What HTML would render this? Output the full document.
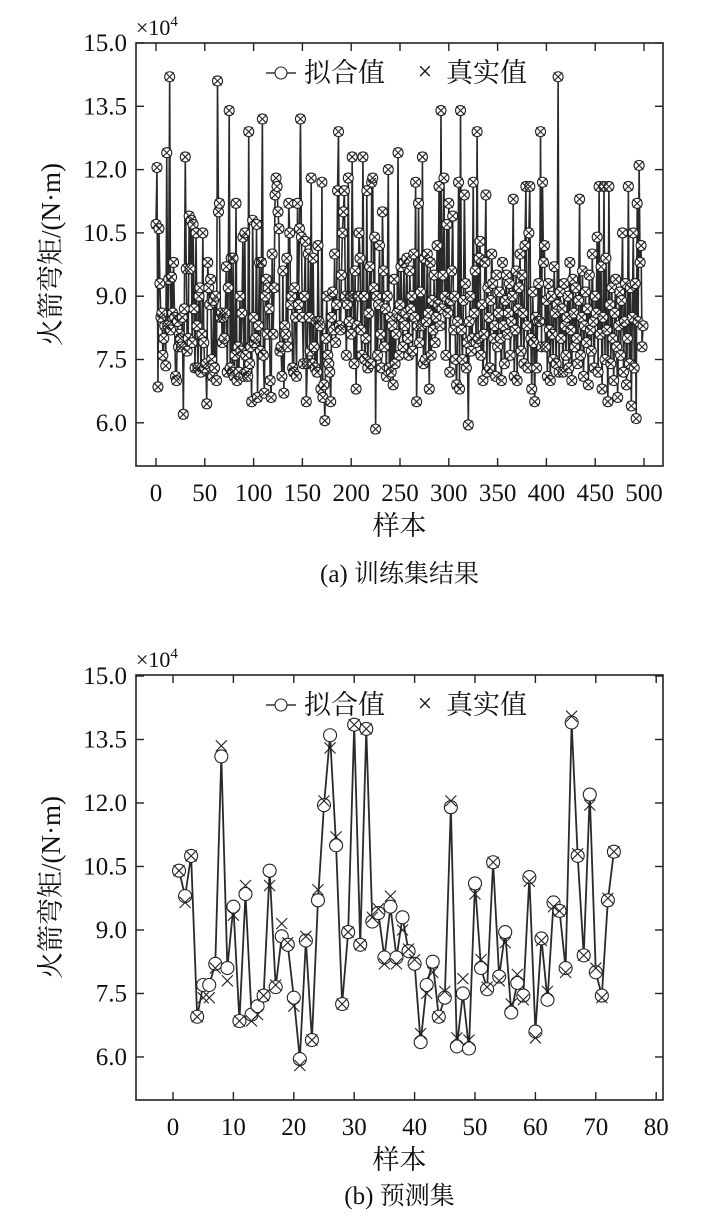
<!DOCTYPE html>
<html><head><meta charset="utf-8"><style>
body{margin:0;background:#fff;}
svg{display:block;}
text{font-family:"Liberation Serif","Noto Serif CJK SC",serif;}
</style></head><body>
<svg id="s" width="709" height="1221"></svg>
<script>
const trainValues=[10.7,12.05,6.85,10.6,9.3,8.5,8.6,7.6,8.0,8.3,7.35,12.4,8.3,9.4,14.2,8.2,9.45,8.6,9.8,8.5,7.1,7.0,8.4,7.8,8.1,
8.0,7.8,8.5,6.2,8.7,12.3,9.65,7.7,8.0,10.9,9.65,10.8,7.9,10.7,8.7,7.3,10.5,8.3,7.3,9.0,9.2,7.2,8.1,10.5,7.9,
7.3,7.4,6.45,9.8,9.2,8.8,9.4,7.5,7.1,8.9,7.3,9.0,7.0,14.1,11.0,11.2,8.5,8.6,7.9,8.5,8.0,8.6,9.7,7.2,9.2,
13.4,7.3,9.9,7.2,9.9,7.1,7.6,11.2,7.0,7.8,7.2,9.0,7.7,8.6,10.4,7.1,10.5,7.6,7.2,7.1,12.9,7.4,7.8,6.5,10.8,
8.5,7.9,8.0,10.7,6.6,8.3,9.8,7.7,9.8,13.2,7.6,6.7,9.0,9.4,8.1,9.2,8.7,7.0,6.6,10.0,8.1,9.2,11.4,11.8,11.6,
11.0,10.6,7.7,7.8,7.1,9.6,6.7,8.3,8.1,9.9,7.8,11.2,10.5,8.8,9.0,7.3,7.2,9.2,8.5,7.1,11.2,8.8,10.6,13.2,10.4,
8.5,7.4,9.0,10.3,6.5,7.4,10.0,8.5,7.7,11.8,7.4,9.9,7.8,7.3,8.4,7.2,10.2,8.4,8.3,6.8,11.7,6.6,6.9,6.05,8.0,
9.0,7.6,7.4,7.2,6.5,8.5,9.1,8.2,10.0,7.9,8.8,11.5,12.9,8.3,8.2,9.5,10.5,11.0,11.5,9.0,7.6,8.8,11.8,8.4,9.0,
8.1,12.3,9.0,7.4,9.6,6.8,8.3,9.0,10.5,9.9,8.2,7.6,12.3,9.0,7.5,8.0,11.5,7.3,8.6,9.7,7.4,11.7,11.8,9.2,10.4,
5.85,9.0,7.6,8.8,10.2,8.1,7.3,11.0,9.6,7.8,8.7,7.1,9.0,12.0,7.3,8.5,7.2,8.3,6.9,9.4,7.4,8.1,8.6,12.4,7.6,
8.8,9.7,8.5,7.8,9.8,8.3,8.6,9.9,8.0,7.6,9.6,8.7,9.0,7.7,10.0,8.5,11.7,6.5,8.3,11.2,7.9,9.1,8.3,12.3,7.4,
9.9,7.5,8.4,10.0,8.6,6.8,9.8,7.6,8.9,8.2,9.5,7.9,8.5,10.2,8.8,11.6,8.3,13.4,8.7,9.5,11.8,9.0,7.6,10.7,8.6,
11.2,7.2,8.9,9.6,10.9,8.2,9.0,7.5,6.9,8.4,11.7,6.8,13.4,8.2,7.5,8.9,11.4,9.3,7.3,7.9,5.95,8.4,9.0,7.7,8.0,
11.7,8.6,9.6,7.9,12.9,8.0,9.9,10.3,7.6,8.8,7.0,8.1,9.8,11.4,7.2,9.2,8.5,7.3,8.9,10.0,9.3,8.0,8.3,7.1,9.5,
7.8,8.6,9.1,8.0,7.0,9.8,8.3,7.4,8.9,9.5,8.1,8.6,9.3,7.6,8.4,9.0,11.3,7.1,8.2,9.6,7.0,8.7,9.2,10.0,7.7,
9.5,8.6,7.4,10.2,11.6,8.3,7.3,10.5,11.6,8.0,6.8,9.1,7.9,6.5,8.5,7.3,8.4,9.3,8.4,12.9,7.8,11.7,9.8,10.2,7.8,
8.9,7.1,9.3,8.2,7.0,9.0,8.1,7.5,9.7,8.6,7.4,8.8,14.2,7.2,9.1,8.0,8.7,7.2,9.3,8.3,7.6,8.5,9.0,7.3,9.8,
8.2,7.0,9.4,8.6,7.8,9.2,8.0,7.4,8.9,11.3,7.6,8.5,9.6,7.1,8.3,9.1,7.9,8.7,6.9,9.5,8.2,7.7,10.0,8.4,7.3,
9.0,8.6,10.4,7.2,11.6,8.1,9.7,6.8,8.5,11.6,7.5,9.9,8.2,6.5,11.6,8.8,7.4,9.2,8.0,7.0,8.6,9.4,7.8,6.6,8.3,
9.1,7.6,8.9,10.5,7.2,8.4,9.3,6.9,8.0,11.6,7.4,9.2,6.4,8.5,10.5,7.3,9.3,6.1,11.2,8.4,12.1,9.8,10.2,7.8,8.3];
const testFit=[10.4,9.8,10.75,6.95,7.7,7.7,8.2,13.1,8.1,9.55,6.85,9.85,7.0,7.2,7.45,10.4,7.65,8.85,8.65,7.4,5.95,8.75,6.4,9.7,11.95,13.6,11.0,7.25,8.95,13.85,8.65,13.75,9.2,9.4,8.35,9.55,8.35,9.3,8.5,8.2,6.35,7.7,8.25,6.95,7.4,11.9,6.25,7.5,6.2,10.1,8.1,7.6,10.6,7.9,8.95,7.05,7.75,7.45,10.25,6.6,8.8,7.35,9.65,9.45,8.1,13.9,10.75,8.4,12.2,8.0,7.45,9.7,10.85];
const testTrue=[10.4,9.65,10.75,6.95,7.4,7.4,8.1,13.35,7.8,9.35,6.85,10.05,6.85,7.0,7.45,10.05,7.7,9.15,8.7,7.2,5.8,8.85,6.4,9.95,12.05,13.3,11.2,7.25,8.95,13.85,8.65,13.75,9.3,9.5,8.2,9.8,8.2,9.0,8.55,8.3,6.55,7.5,8.0,6.95,7.55,12.05,6.45,7.85,6.4,9.85,8.3,7.65,10.6,7.8,8.7,7.25,7.95,7.35,10.15,6.45,8.75,7.55,9.55,9.45,8.0,14.05,10.8,8.4,11.95,8.1,7.4,9.75,10.85];
const yTicks=[6.0,7.5,9.0,10.5,12.0,13.5,15.0];
const xTicksTrain=[0,50,100,150,200,250,300,350,400,450,500];
const xTicksTest=[0,10,20,30,40,50,60,70,80];

const S=document.getElementById('s');const NS='http://www.w3.org/2000/svg';
const FF='"Liberation Serif","Noto Serif CJK SC",serif';
function el(t,a,p){const e=document.createElementNS(NS,t);for(const k in a)e.setAttribute(k,a[k]);(p||S).appendChild(e);return e;}
function txt(x,y,s,size,anchor,p){const e=el('text',{x:x,y:y,'font-size':size,'text-anchor':anchor||'middle',fill:'#111','font-family':FF},p);e.textContent=s;return e;}

function chart(cfg){
  const g=el('g',{});
  
  
  const L=136,R=663,T=cfg.top,B=cfg.bottom;
  const X=v=>cfg.x0+(v-cfg.xmin)*cfg.xs;
  const Y=v=>cfg.y15+(15-v)*cfg.ys;
  const frame=el('rect',{x:L,y:T,width:R-L,height:B-T,fill:'none',stroke:'#222','stroke-width':1.6},g);
  
  
  yTicks.forEach(v=>{const y=Y(v);
    el('line',{x1:L,y1:y,x2:L+8,y2:y,stroke:'#222','stroke-width':1.4},g);
    el('line',{x1:R,y1:y,x2:R-8,y2:y,stroke:'#222','stroke-width':1.4},g);
    const t=txt(L-9,y+8,v.toFixed(1),25,'end',g);
    
    });
  cfg.xt.forEach(v=>{const x=X(v);
    el('line',{x1:x,y1:B,x2:x,y2:B-8,stroke:'#222','stroke-width':1.4},g);
    el('line',{x1:x,y1:T,x2:x,y2:T+8,stroke:'#222','stroke-width':1.4},g);
    const t=txt(x,B+35,String(v),25,'middle',g);
    
    });
  const e=txt(L,T-8,'×10',22,'start',g);
  const sup=el('tspan',{dy:-9,'font-size':15},e);sup.textContent='4';
  
  
  const yl=txt(0,0,'火箭弯矩/(N·m)',27,'middle',g);
  yl.setAttribute('transform','translate(60,'+((T+B)/2)+') rotate(-90)');
  
  
  const xl=txt((L+R)/2,B+69,'样本',27,'middle',g);
  
  
  const cap=txt((L+R)/2,cfg.capY,cfg.cap,25,'middle',g);
  
  
  const pts=cfg.fit.map((v,i)=>X(cfg.xmin0+i)+','+Y(v)).join(' ');
  const line=el('polyline',{points:pts,fill:'none',stroke:'#2a2a2a','stroke-width':cfg.lw},g);
  
  
  cfg.fit.forEach((v,i)=>{const c=el('circle',{cx:X(cfg.xmin0+i),cy:Y(v),r:cfg.r,fill:'#fff',stroke:'#222','stroke-width':1.1},g);
    
    });
  cfg.tru.forEach((v,i)=>{const x=X(cfg.xmin0+i),y=Y(v),h=cfg.r*0.85;
    const p=el('path',{d:`M${x-h},${y-h}L${x+h},${y+h}M${x-h},${y+h}L${x+h},${y-h}`,stroke:'#222','stroke-width':1.1,fill:'none'},g);
    
    });
  const lg=el('g',{},g);
  
  
  const ly=T+39;
  el('line',{x1:266,y1:ly-9,x2:296,y2:ly-9,stroke:'#333','stroke-width':1.5},lg);
  el('circle',{cx:281,cy:ly-9,r:6,fill:'#fff',stroke:'#222','stroke-width':1.1},lg);
  txt(304,ly,'拟合值',27,'start',lg);
  txt(425,ly-2,'×',26,'middle',lg);
  txt(446,ly,'真实值',27,'start',lg);
}
chart({name:'training-chart',top:43,bottom:466,y15:43,ys:42.2,x0:156,xmin:0,xmin0:0,xs:0.976,xt:xTicksTrain,fit:trainValues,tru:trainValues,r:5,lw:1.6,cap:'(a) 训练集结果',capY:582});
chart({name:'test-chart',top:675,bottom:1100,y15:676,ys:42.33,x0:173,xmin:0,xmin0:1,xs:6.04,xt:xTicksTest,fit:testFit,tru:testTrue,r:6.5,lw:1.8,cap:'(b) 预测集',capY:1204});
</script>
</body></html>
